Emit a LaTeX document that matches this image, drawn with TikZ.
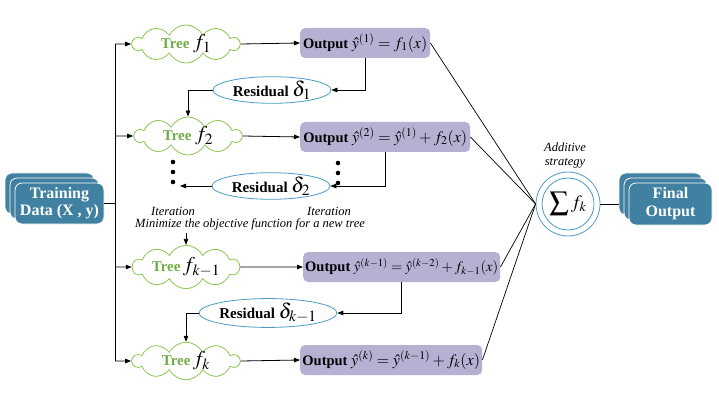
\documentclass[tikz,border=0pt]{standalone}
\usepackage{mathptmx}
\usepackage{fontspec}
\setmainfont{Liberation Serif}
\usetikzlibrary{shapes.symbols,shapes.geometric,arrows.meta}
\definecolor{teal1}{RGB}{64,128,160}
\definecolor{lav}{RGB}{182,176,210}
\definecolor{cgreen}{RGB}{140,198,80}
\definecolor{tgreen}{RGB}{112,173,71}
\definecolor{eblue}{RGB}{75,155,195}
\newcommand{\outm}[1]{{\fontsize{16}{18}\selectfont$#1$}}
\newcommand{\outs}[1]{{\fontsize{14.5}{17}\selectfont$#1$}}
\begin{document}
\begin{tikzpicture}[x=1pt,y=-1pt,
 font=\fontsize{14.5}{16}\selectfont,
 arr/.style={-{Triangle[length=6pt,width=4.5pt]}, line width=0.8pt},
 ln/.style={line width=0.7pt},
 tree/.style={cloud, cloud puffs=10, cloud puff arc=125, cloud ignores aspect, draw=cgreen, line width=0.8pt, minimum width=107pt, minimum height=30pt, inner sep=0pt, text=tgreen, font=\fontsize{15}{17}\selectfont\bfseries},
 outbox/.style={rounded corners=5pt, fill=lav, minimum height=30pt, inner sep=2pt, anchor=west},
 resid/.style={ellipse, draw=eblue, line width=0.8pt, minimum width=118pt, minimum height=24pt, inner sep=0pt, font=\fontsize{15}{17}\selectfont\bfseries},
 stackbox/.style={rounded corners=7pt, fill=teal1, draw=white, line width=0.8pt, minimum width=89pt, minimum height=41pt, inner sep=0pt},
 ital/.style={font=\fontsize{12.5}{14}\selectfont\itshape}
 ]
\useasboundingbox (0,0) rectangle (719,403);
% training data stack
\node[stackbox] (td3) at (49.5,193.5) {};
\node[stackbox] (td2) at (54.5,198.5) {};
\node[stackbox, text=white, align=center, font=\fontsize{16}{17}\selectfont\bfseries] (td) at (59.5,203.5) {Training\\Data (X , y)};
% trees
\node[tree] (t1) at (186,44) {Tree \textcolor{black}{\fontsize{21}{21}\selectfont$f_1$}};
\node[tree] (t2) at (188,136) {Tree \textcolor{black}{\fontsize{21}{21}\selectfont$f_2$}};
\node[tree] (t3) at (186,267) {Tree\,\textcolor{black}{\fontsize{21}{21}\selectfont$f_{k-1}$}};
\node[tree] (t4) at (186,361) {Tree\,\textcolor{black}{\fontsize{21}{21}\selectfont$f_k$}};
% outputs
\node[outbox, minimum width=130pt] (o1) at (300,43) {\textbf{Output} \outm{\hat{y}^{(1)} = f_1(x)}};
\node[outbox, minimum width=170pt] (o2) at (300,137) {\textbf{Output} \outm{\hat{y}^{(2)} = \hat{y}^{(1)} + f_2(x)}};
\node[outbox, minimum width=197pt] (o3) at (303,267) {\textbf{Output} \outs{\hat{y}^{(k-1)} = \hat{y}^{(k-2)} + f_{k-1}(x)}};
\node[outbox, minimum width=182pt] (o4) at (300,360) {\textbf{Output} \outm{\hat{y}^{(k)} = \hat{y}^{(k-1)} + f_k(x)}};
% residuals
\node[resid] (r1) at (272,90) {Residual {\fontsize{21}{21}\selectfont$\delta_1$}};
\node[resid] (r2) at (271,186) {Residual {\fontsize{21}{21}\selectfont$\delta_2$}};
\node[resid] (r3) at (268,313) {Residual {\fontsize{21}{21}\selectfont$\delta_{k-1}$}};
% iteration labels
\node[ital] (it1) at (173,211) {Iteration};
\node[ital] (it2) at (329,211) {Iteration};
\node[ital] (mini) at (250,224) {Minimize the objective function for a new tree};
% sum
\node[circle, draw=eblue, line width=0.8pt, minimum size=64pt, inner sep=0pt] (sum) at (568,204) {};
\node[circle, draw=eblue, line width=0.8pt, minimum size=52pt, inner sep=0pt, font=\fontsize{19}{21}\selectfont] (sumin) at (568,204) {$\displaystyle\sum f_k$};
\node[ital, align=center] (add) at (565,156) {Additive\\strategy};
% final output stack
\node[stackbox, minimum width=83pt, minimum height=42pt] (fo3) at (660.5,194) {};
\node[stackbox, minimum width=83pt, minimum height=42pt] (fo2) at (665.5,199) {};
\node[stackbox, minimum width=83pt, minimum height=42pt, text=white, align=center, font=\fontsize{16}{18}\selectfont\bfseries] (fo) at (670.5,204) {Final\\Output};
% coordinates
\coordinate (v0) at (115,203.5);
\coordinate (v1) at (115,44);
\coordinate (v2) at (115,136);
\coordinate (v3) at (115,267);
\coordinate (v4) at (115,361);
\coordinate (d2) at (180,186);
% connectors
\draw[ln] (td.east) -- (v0);
\draw[ln] (v1) -- (v4);
\draw[arr] (v1) -- (t1.west);
\draw[arr] (v2) -- (t2.west);
\draw[arr] (v3) -- (t3.west);
\draw[arr] (v4) -- (t4.west);
\draw[arr] (t1.east) -- (o1.west);
\draw[arr] (t2.east) -- (o2.west);
\draw[arr] (t3.east) -- (o3.west);
\draw[arr] (t4.east) -- (o4.west);
\draw[arr] (o1.south) |- (r1.east);
\draw[arr] (r1.west) -| (t2.north);
\draw[arr] (o2.south) |- (r2.east);
\draw[arr] (r2.west) -- (d2);
\draw[arr] (o3.south) |- (r3.east);
\draw[arr] (r3.west) -| (t4.north);
\draw[arr] (mini.south -| t3.north) -- (t3.north);
\draw[ln] (o1.east) -- (sum.west);
\draw[ln] (o2.east) -- (sum.west);
\draw[ln] (o3.east) -- (sum.west);
\draw[ln] (o4.east) -- (sum.west);
\draw[ln] (sum.east) -- (sum.east -| fo3.west);
% dots
\foreach \y in {162,172,182} {\fill (173,\y) circle (2.3); \fill (338,\y+1) circle (2.3);}
\end{tikzpicture}
\end{document}
